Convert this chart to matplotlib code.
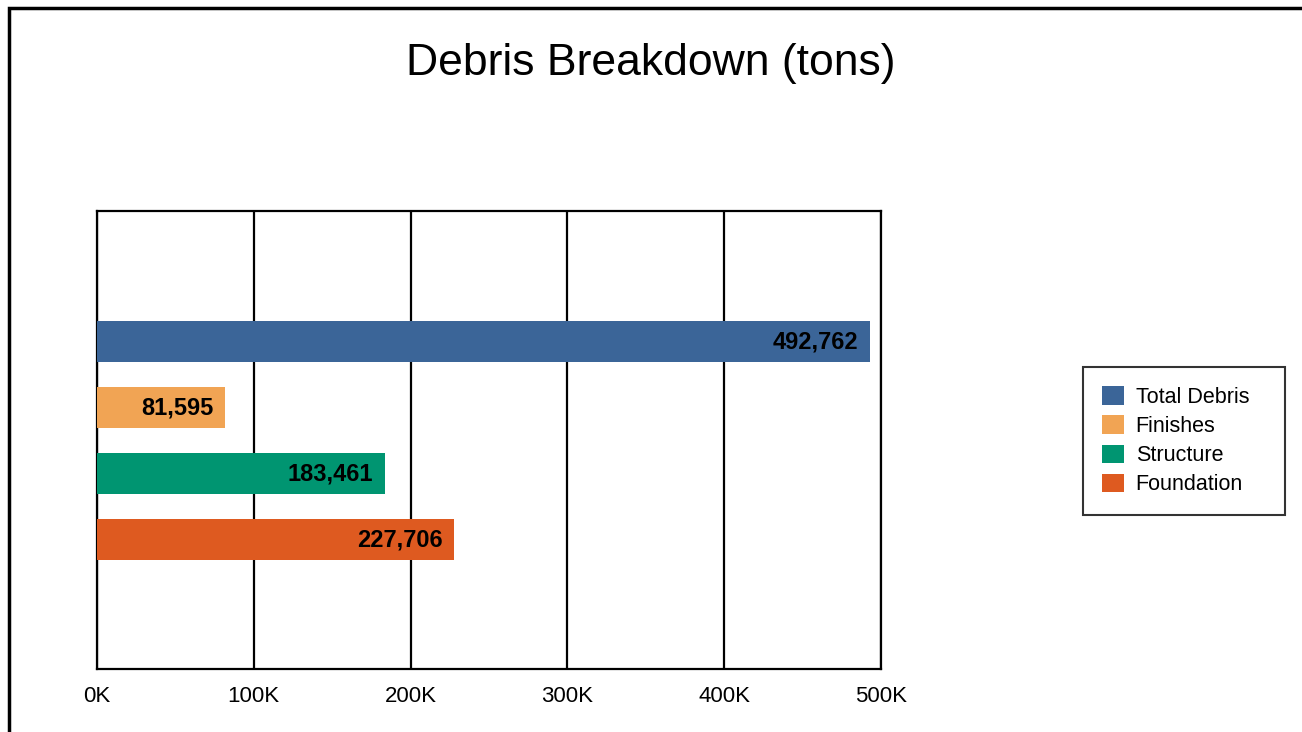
import matplotlib
matplotlib.use("Agg")
import matplotlib.pyplot as plt
from matplotlib.patches import Rectangle, Patch
from matplotlib.ticker import FuncFormatter

plt.rcParams['font.family'] = ['Liberation Sans', 'DejaVu Sans']

categories = ["Total Debris", "Finishes", "Structure", "Foundation"]
values = [492762, 81595, 183461, 227706]
colors = ["#3B6598", "#F1A454", "#009571", "#DE5A20"]
xticks = [0, 100000, 200000, 300000, 400000, 500000]

W, H = 1302, 732
fig = plt.figure(figsize=(W/100, H/100), dpi=100)
fig.patch.set_facecolor("white")

# figure border (extends beyond right and bottom edges)
fig.patches.append(Rectangle((9/W, -0.1), 1.2, (H - 8)/H + 0.1, transform=fig.transFigure,
                             fill=False, edgecolor="black", linewidth=2.5))

ax = fig.add_axes([97/W, 1 - 669/H, (881-97)/W, (669-211)/H])
pos = list(range(len(categories)))
bars = ax.barh(pos, values, height=0.62, color=colors, zorder=3)
ax.set_ylim(4.96, -1.98)
ax.set_xlim(0, 500000)
ax.set_xticks(xticks)
ax.xaxis.set_major_formatter(FuncFormatter(lambda v, p: f"{int(v/1000)}K"))
ax.set_yticks([])
ax.tick_params(axis='x', length=0, pad=12, labelsize=16)
ax.grid(axis='x', color='black', linewidth=1.6, zorder=1)
for s in ax.spines.values():
    s.set_linewidth(1.6)
    s.set_color('black')

for b, v in zip(bars, values):
    ax.text(v - 7500, b.get_y() + b.get_height()/2, f"{v:,}", ha='right', va='center',
            fontsize=17, fontweight='bold', color='black', zorder=4)

fig.text(651/W, 1 - 63/H, "Debris Breakdown (tons)", ha='center', va='center', fontsize=32)

handles = [Patch(facecolor=c, edgecolor='none') for c in colors]
leg = fig.legend(handles, categories, loc='upper left',
                 bbox_to_anchor=(1083/W, 1 - 515/H, 202/W, 148/H), mode='expand',
                 fontsize=15.5, frameon=True, fancybox=False, edgecolor='black',
                 handlelength=1.0, handleheight=0.93, labelspacing=0.35, handletextpad=0.55,
                 borderpad=0.9, borderaxespad=0)
leg.get_frame().set_linewidth(1.5)

fig.savefig("out.png", dpi=100)
